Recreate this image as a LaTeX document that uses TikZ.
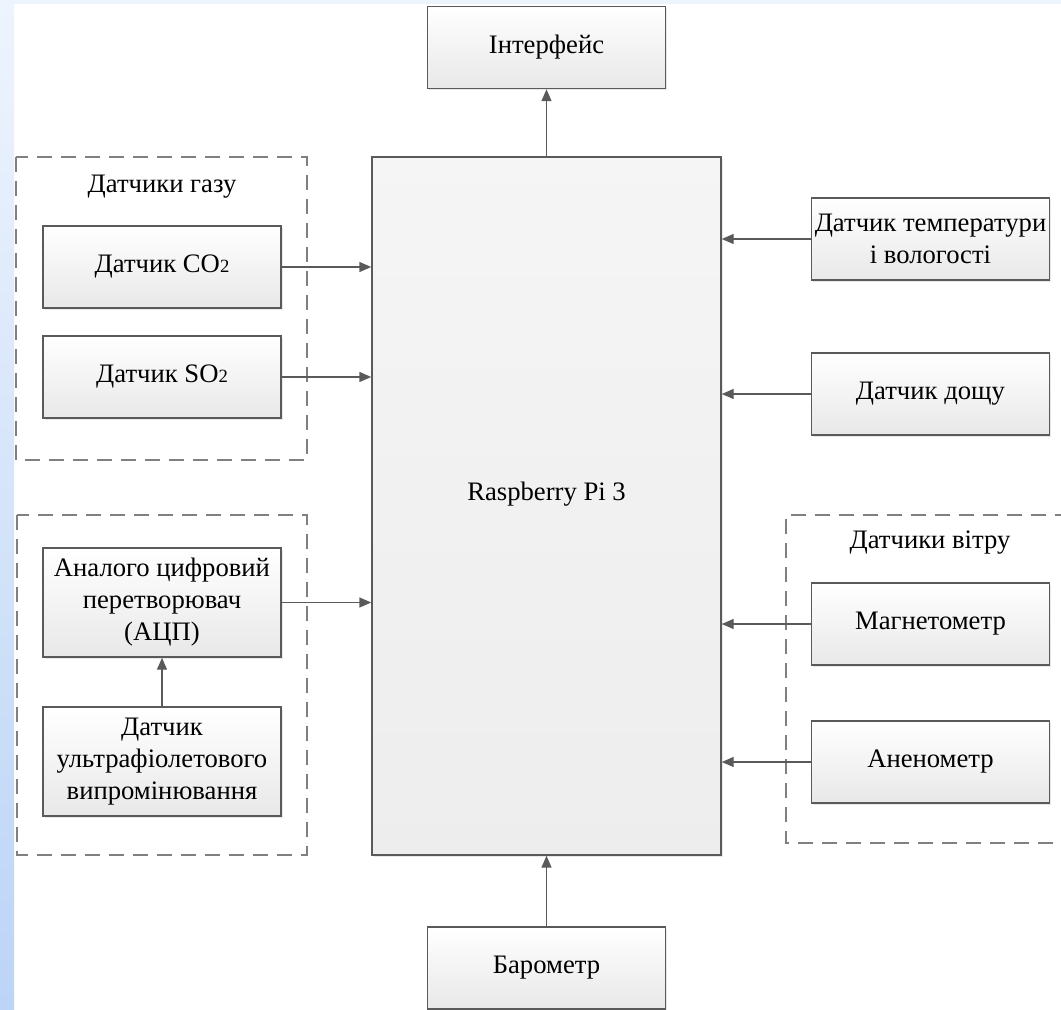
\documentclass[tikz,border=0pt]{standalone}
\usepackage{fontspec}
\setmainfont{Liberation Serif}
\usepackage{tikz}
\usetikzlibrary{arrows.meta,positioning,shadows}

\definecolor{edgegray}{HTML}{5A5A5A}
\definecolor{dashgray}{HTML}{808080}
\definecolor{striptop}{HTML}{EEF4FD}
\definecolor{stripbot}{HTML}{BCD4F6}
\newcommand{\idx}[1]{{\fontsize{14}{14}\selectfont #1}}

\tikzset{
  blok/.style={rectangle,draw=edgegray,line width=1.1pt,top color=white,bottom color=black!9,
    minimum width=178.5pt,minimum height=61.5pt,align=center,inner sep=2pt,
    font=\fontsize{20}{24}\selectfont,
    drop shadow={opacity=0.18,shadow xshift=1.2pt,shadow yshift=-1.2pt}},
  grupa/.style={draw=dashgray,line width=1pt,dash pattern=on 11pt off 7pt},
  mystyle/.style={-{Triangle[length=9pt,width=7.5pt]},draw=edgegray,fill=edgegray,line width=1.1pt}
}

\begin{document}
\begin{tikzpicture}[x=0.75pt,y=-0.75pt]
\useasboundingbox (0,0) rectangle (1061,1010);
\fill[white] (0,0) rectangle (1061,1010);
\shade[top color=striptop,bottom color=stripbot] (0,0) rectangle (14,1010);
\fill[striptop] (14,0) rectangle (1061,4);

  \node[blok,minimum width=261.75pt,minimum height=523.5pt,top color=black!4,bottom color=black!7] (rpi) at (546.5,506) {Raspberry Pi 3\\[-1.5pt]\mbox{}};
  \node[blok] (intf) at (546.5,47.5) {Інтерфейс};
  \node[blok] (baro) at (546.5,968) {Барометр};

  % left side
  \node[blok] (co2) at (162,267) {Датчик CO\idx{2}};
  \node[blok] (so2) at (162,377) {Датчик SO\idx{2}};
  \node[blok,minimum height=81.75pt] (adc) at (162,602.5) {Аналого цифровий\\перетворювач\\(АЦП)};
  \node[blok,minimum height=81.75pt] (uv)  at (162,761.5) {Датчик\\ультрафіолетового\\випромінювання};

  % right side
  \node[blok] (temp) at (930.5,239) {Датчик температури\\і вологості};
  \node[blok] (rain) at (930.5,394) {Датчик дощу};
  \node[blok] (magn) at (930.5,624) {Магнетометр};
  \node[blok] (anem) at (930.5,762) {Аненометр};

  % groups
  \draw[grupa] (16,157) rectangle (307,460);
  \draw[grupa] (17,515) rectangle (307,855);
  \draw[grupa] (1070,515) -- (786,515) -- (786,843) -- (1070,843);
  \node[font=\fontsize{20}{24}\selectfont] (gazlbl) at (162,187) {Датчики газу};
  \node[font=\fontsize{20}{24}\selectfont] (vitlbl) at (930,543) {Датчики вітру};

\path (rpi.north)  edge [mystyle] (intf.south)
      (baro.north) edge [mystyle] (rpi.south)
      (co2.east)   edge [mystyle] (co2.east -| rpi.west)
      (so2.east)   edge [mystyle] (so2.east -| rpi.west)
      (adc.east)   edge [mystyle] (adc.east -| rpi.west)
      (uv.north)   edge [mystyle] (adc.south)
      (temp.west)  edge [mystyle] (temp.west -| rpi.east)
      (rain.west)  edge [mystyle] (rain.west -| rpi.east)
      (magn.west)  edge [mystyle] (magn.west -| rpi.east)
      (anem.west)  edge [mystyle] (anem.west -| rpi.east);
\end{tikzpicture}
\end{document}
